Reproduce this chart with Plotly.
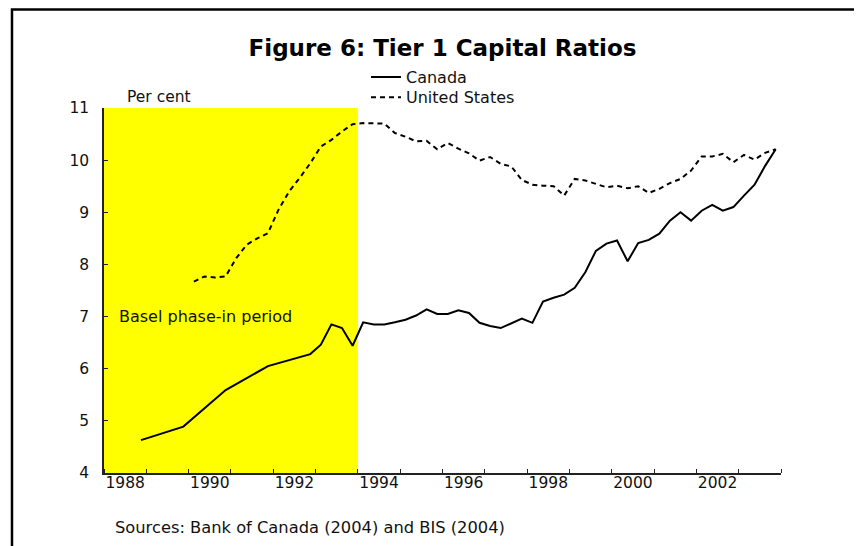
import plotly.graph_objects as go

# Canada: annual (Q4) to 1992, quarterly from 1993
canada_q = ["1988Q4", "1989Q4", "1990Q4", "1991Q4", "1992Q4"] + \
    [f"{y}Q{q}" for y in range(1993, 2004) for q in range(1, 5)]
canada = [4.63, 4.89, 5.59, 6.05, 6.28,
          6.46, 6.85, 6.78, 6.44,
          6.89, 6.85, 6.85, 6.89,
          6.94, 7.02, 7.14, 7.05,
          7.05, 7.12, 7.07, 6.88,
          6.82, 6.78, 6.87, 6.96,
          6.88, 7.29, 7.36, 7.42,
          7.55, 7.85, 8.26, 8.40,
          8.46, 8.06, 8.41, 8.47,
          8.59, 8.84, 9.00, 8.84,
          9.03, 9.14, 9.03, 9.10,
          9.32, 9.53, 9.89, 10.21]

# United States: quarterly from 1990
us_q = [f"{y}Q{q}" for y in range(1990, 2004) for q in range(1, 5)]
us = [7.67, 7.77, 7.75, 7.77,
      8.12, 8.38, 8.50, 8.60,
      9.05, 9.40, 9.66, 9.94,
      10.26, 10.39, 10.55, 10.69,
      10.71, 10.70, 10.70, 10.52,
      10.45, 10.36, 10.37, 10.21,
      10.33, 10.22, 10.13, 9.99,
      10.06, 9.93, 9.88, 9.62,
      9.53, 9.51, 9.50, 9.32,
      9.64, 9.61, 9.55, 9.48,
      9.51, 9.46, 9.50, 9.37,
      9.45, 9.56, 9.64, 9.80,
      10.07, 10.07, 10.12, 9.96,
      10.10, 10.01, 10.14, 10.21]

year_labels = ["1988", "1990", "1992", "1994", "1996", "1998", "2000", "2002"]
basel_start, basel_end = 1988, 1994


def qpos(label):
    # quarter label -> middle of quarter on a decimal-year axis
    y, q = label.split("Q")
    return int(y) + (int(q) - 0.5) / 4


FONT = "DejaVu Sans, sans-serif"
INK = "#111"

fig = go.Figure()
fig.add_trace(go.Scatter(x=[qpos(q) for q in canada_q], y=canada, name="Canada",
                         mode="lines", line=dict(color="black", width=2), legend="legend"))
fig.add_trace(go.Scatter(x=[qpos(q) for q in us_q], y=us, name="United States",
                         mode="lines", line=dict(color="black", width=2, dash="5px,4px"),
                         legend="legend2"))

# Basel phase-in shading
fig.add_shape(type="rect", xref="x", yref="y", x0=basel_start, x1=basel_end, y0=4, y1=11,
              fillcolor="#FFFF00", line=dict(width=0), layer="below")
# outer frame (runs off the right and bottom edges)
fig.add_shape(type="rect", xref="paper", yref="paper", x0=-0.1359, x1=1.3, y0=-0.4, y1=1.2699,
              line=dict(color="black", width=2.5), fillcolor="rgba(0,0,0,0)")

fig.add_annotation(text="Per cent", xref="paper", yref="paper", x=0.031, y=1.030,
                   xanchor="left", yanchor="middle", showarrow=False,
                   font=dict(size=15.5, color=INK))
fig.add_annotation(text="Basel phase-in period", xref="paper", yref="paper", x=0.0192, y=0.430,
                   xanchor="left", yanchor="middle", showarrow=False,
                   font=dict(size=16, color=INK))
fig.add_annotation(text="Sources: Bank of Canada (2004) and BIS (2004)", xref="paper", yref="paper",
                   x=0.0133, y=-0.148, xanchor="left", yanchor="middle", showarrow=False,
                   font=dict(size=16.3, color=INK))

axis_line = dict(showline=True, linecolor="#222", linewidth=1.5, showgrid=False, zeroline=False)
legend_common = dict(x=0.387, xanchor="left", yanchor="top", bgcolor="rgba(0,0,0,0)",
                     font=dict(size=16, color=INK))

fig.update_layout(
    # page body has an 8px margin, so the figure is 8px smaller than the window
    width=854, height=538,
    margin=dict(l=96, r=81, t=100, b=73),
    paper_bgcolor="white", plot_bgcolor="white",
    font=dict(family=FONT, size=15.5, color=INK),
    title=dict(text="<b>Figure 6: Tier 1 Capital Ratios</b>", x=0.5, xref="paper",
               y=1 - 40 / 538, yanchor="middle", font=dict(size=23, color="black")),
    showlegend=True,
    legend=dict(y=1.131, **legend_common),
    legend2=dict(y=1.076, **legend_common),
    xaxis=dict(range=[1988, 2004],
               tickvals=[int(l) + 0.5 for l in year_labels], ticktext=year_labels, ticks="",
               ticklabelstandoff=-5,
               minor=dict(tickvals=list(range(1988, 2005)), ticks="inside", ticklen=4,
                          tickcolor="#222", showgrid=False),
               **axis_line),
    yaxis=dict(range=[4, 11], dtick=1, ticks="inside", ticklen=4, tickcolor="#222",
               ticklabelstandoff=10, **axis_line),
    yaxis2=dict(range=[4, 11], dtick=1, ticks="inside", ticklen=4, tickcolor="#222",
                overlaying="y", side="right", ticklabelstandoff=5, **axis_line),
)

fig.write_html("out.html")
